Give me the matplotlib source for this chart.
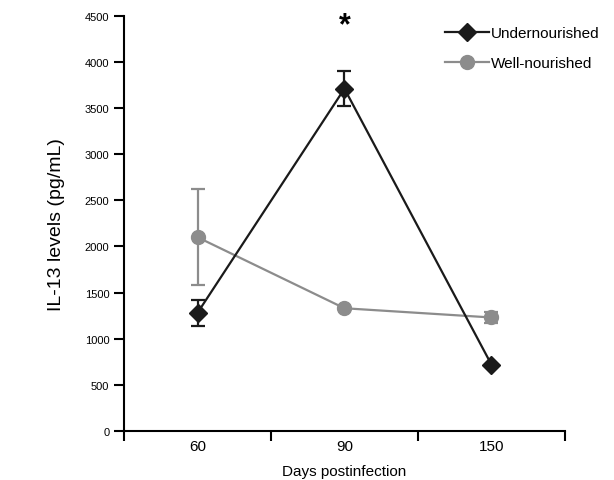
import numpy as np
import matplotlib.pyplot as plt
from matplotlib.lines import Line2D

plt.rcParams['font.family'] = ['Liberation Sans', 'DejaVu Sans']

days = ['60', '90', '150']
under = [1280, 3710, 720]
under_err = [140, 190, 0]
well = [2100, 1330, 1230]
well_err = [520, 0, 60]
yticks = np.arange(0, 4501, 500)

col_under = '#1a1a1a'
col_well = '#8c8c8c'

fig = plt.figure(figsize=(6.14, 4.81), dpi=100)
ax = fig.add_axes([0.202, 0.102, 0.718, 0.863])

x = np.arange(len(days))
ax.errorbar(x, well, yerr=well_err, color=col_well, marker='o', markersize=10,
            lw=1.6, capsize=5, capthick=1.6, elinewidth=1.6, zorder=2)
ax.errorbar(x, under, yerr=under_err, color=col_under, marker='D', markersize=9,
            lw=1.6, capsize=5, capthick=1.6, elinewidth=1.6, zorder=3)

ax.text(1, 4400, '*', ha='center', va='center', fontsize=22, fontweight='bold')

ax.set_xlim(-0.5, 2.5)
ax.set_ylim(0, 4500)
ax.set_yticks(yticks)
ax.tick_params(axis='y', labelsize=8, length=7, width=1.5, direction='out')
ax.set_xticks([-0.5, 0.5, 1.5, 2.5])
ax.set_xticklabels([])
ax.tick_params(axis='x', length=7, width=1.5, direction='out')
ax.set_xticks(x, minor=True)
ax.set_xticklabels(days, minor=True)
ax.tick_params(axis='x', which='minor', length=0, labelsize=11, pad=6)

for s in ['top', 'right']:
    ax.spines[s].set_visible(False)
for s in ['left', 'bottom']:
    ax.spines[s].set_linewidth(1.5)

ax.set_xlabel('Days postinfection', fontsize=11, labelpad=8)
ax.set_ylabel('IL-13 levels (pg/mL)', fontsize=14, labelpad=14)

handles = [Line2D([], [], color=col_under, marker='D', markersize=9, lw=1.6),
           Line2D([], [], color=col_well, marker='o', markersize=10, lw=1.6)]
ax.legend(handles, ['Undernourished', 'Well-nourished'], loc='upper right',
          bbox_to_anchor=(1.11, 1.008), frameon=False, fontsize=11,
          handlelength=2.9, handletextpad=0.1, labelspacing=1.05)

fig.savefig('out.png', dpi=100)
